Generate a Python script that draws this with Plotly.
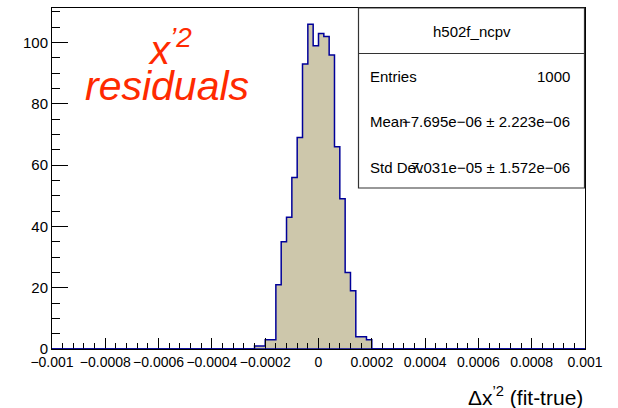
import numpy as np
import plotly.graph_objects as go

# ---- data ----
x_min, x_max = -0.001, 0.001
n_bins = 100
first_bin_low = -0.00024          # low edge of first non-empty bin
counts_nonzero = [1, 1, 3, 3, 21, 35, 43, 56, 69, 93, 106, 99,
                  103, 102, 96, 66, 49, 25, 19, 4, 4, 3]
x_tick_vals = [-0.001, -0.0008, -0.0006, -0.0004, -0.0002, 0,
               0.0002, 0.0004, 0.0006, 0.0008, 0.001]
x_tick_text = ["\u22120.001", "\u22120.0008", "\u22120.0006", "\u22120.0004", "\u22120.0002", "0",
               "0.0002", "0.0004", "0.0006", "0.0008", "0.001"]
y_tick_vals = [0, 20, 40, 60, 80, 100]
stats_title = "h502f_ncpv"
stats_labels = ["Entries", "Mean", "Std Dev"]
stats_values = ["1000", "\u22127.695e\u221206 \u00b1 2.223e\u221206", "7.031e\u221205 \u00b1 1.572e\u221206"]

# ---- build full histogram ----
bin_w = (x_max - x_min) / n_bins
edges = np.linspace(x_min, x_max, n_bins + 1)
counts = np.zeros(n_bins)
i0 = int(round((first_bin_low - x_min) / bin_w))
counts[i0:i0 + len(counts_nonzero)] = counts_nonzero
centers = 0.5 * (edges[:-1] + edges[1:])

FONT = "Liberation Sans, Arial, Helvetica, sans-serif"
fill_col = "#cdc7ab"
line_col = "#000099"

fig = go.Figure()
fig.add_trace(go.Bar(x=centers, y=counts, width=bin_w,
                     marker=dict(color=fill_col, line=dict(width=0)),
                     hoverinfo="skip"))
step_x = np.append(edges[:-1], edges[-1])
step_y = np.append(counts, counts[-1])
fig.add_trace(go.Scatter(x=step_x, y=step_y, mode="lines",
                         line=dict(color=line_col, width=1.5, shape="hv"),
                         hoverinfo="skip"))

ymax = 1.05 * max(counts)

# plot-area geometry (px) used to place paper-referenced decorations
L, R, T, B = 52, 585, 8, 349
def px(xp):
    return (xp - L) / (R - L)
def py(yp):
    return (B - yp) / (B - T)

fig.update_layout(
    width=618, height=408,
    margin=dict(l=L, r=618 - R, t=T, b=408 - B),
    paper_bgcolor="white", plot_bgcolor="white",
    showlegend=False, bargap=0,
    font=dict(family=FONT, size=15, color="black"),
    xaxis=dict(range=[x_min, x_max], tickvals=x_tick_vals, ticktext=x_tick_text,
               tickangle=0,
               ticks="inside", ticklen=11, tickwidth=1, tickcolor="black",
               minor=dict(ticks="inside", ticklen=6, dtick=bin_w * 2, tickcolor="black"),
               showline=True, linecolor="black", linewidth=1, mirror=True,
               showgrid=False, zeroline=False, tickfont=dict(size=14)),
    yaxis=dict(range=[0, ymax], tickvals=y_tick_vals,
               ticks="inside", ticklen=16, tickwidth=1, tickcolor="black",
               minor=dict(ticks="inside", ticklen=8, dtick=5, tickcolor="black"),
               showline=True, linecolor="black", linewidth=1, mirror=True,
               showgrid=False, zeroline=False, tickfont=dict(size=15)),
)

# blue baseline over axis (ROOT draws histogram outline on top)
fig.add_shape(type="line", xref="paper", yref="y", x0=0, x1=1, y0=0, y1=0,
              line=dict(color=line_col, width=1.5), layer="above")

# stats box
bx0, bx1, by0, by1, bdiv = px(358.5), px(584.5), py(188), py(8), py(53.5)
fig.add_shape(type="rect", xref="paper", yref="paper", x0=bx0, x1=bx1, y0=by0, y1=by1,
              line=dict(color="#333333", width=1.2), fillcolor="white", layer="above")
fig.add_shape(type="line", xref="paper", yref="paper", x0=bx0, x1=bx1, y0=bdiv, y1=bdiv,
              line=dict(color="#333333", width=1.2), layer="above")
fig.add_annotation(xref="paper", yref="paper", x=px(471.5), y=py(31), text=stats_title,
                   showarrow=False, xanchor="center", yanchor="middle", font=dict(size=15))
row_y = [76, 121.5, 167]
for lab, val, yy in zip(stats_labels, stats_values, row_y):
    fig.add_annotation(xref="paper", yref="paper", x=px(368), y=py(yy), text=lab,
                       showarrow=False, xanchor="left", yanchor="middle", font=dict(size=15))
    fig.add_annotation(xref="paper", yref="paper", x=px(572), y=py(yy), text=val,
                       showarrow=False, xanchor="right", yanchor="middle", font=dict(size=15))

# red label
red = "#ff2a00"
fig.add_annotation(xref="paper", yref="paper", x=px(170), y=py(47),
                   text="<i>x<sup>\u20192</sup></i>", showarrow=False,
                   xanchor="center", yanchor="middle", font=dict(size=40, color=red))
fig.add_annotation(xref="paper", yref="paper", x=px(167), y=py(86),
                   text="<i>residuals</i>", showarrow=False,
                   xanchor="center", yanchor="middle", font=dict(size=41, color=red))

# x-axis title
fig.add_annotation(xref="paper", yref="paper", x=1.0, y=py(396),
                   text="\u0394x<sup>\u20192</sup> (fit-true)", showarrow=False,
                   xanchor="right", yanchor="middle", font=dict(size=21))

fig.write_html("out.html")
